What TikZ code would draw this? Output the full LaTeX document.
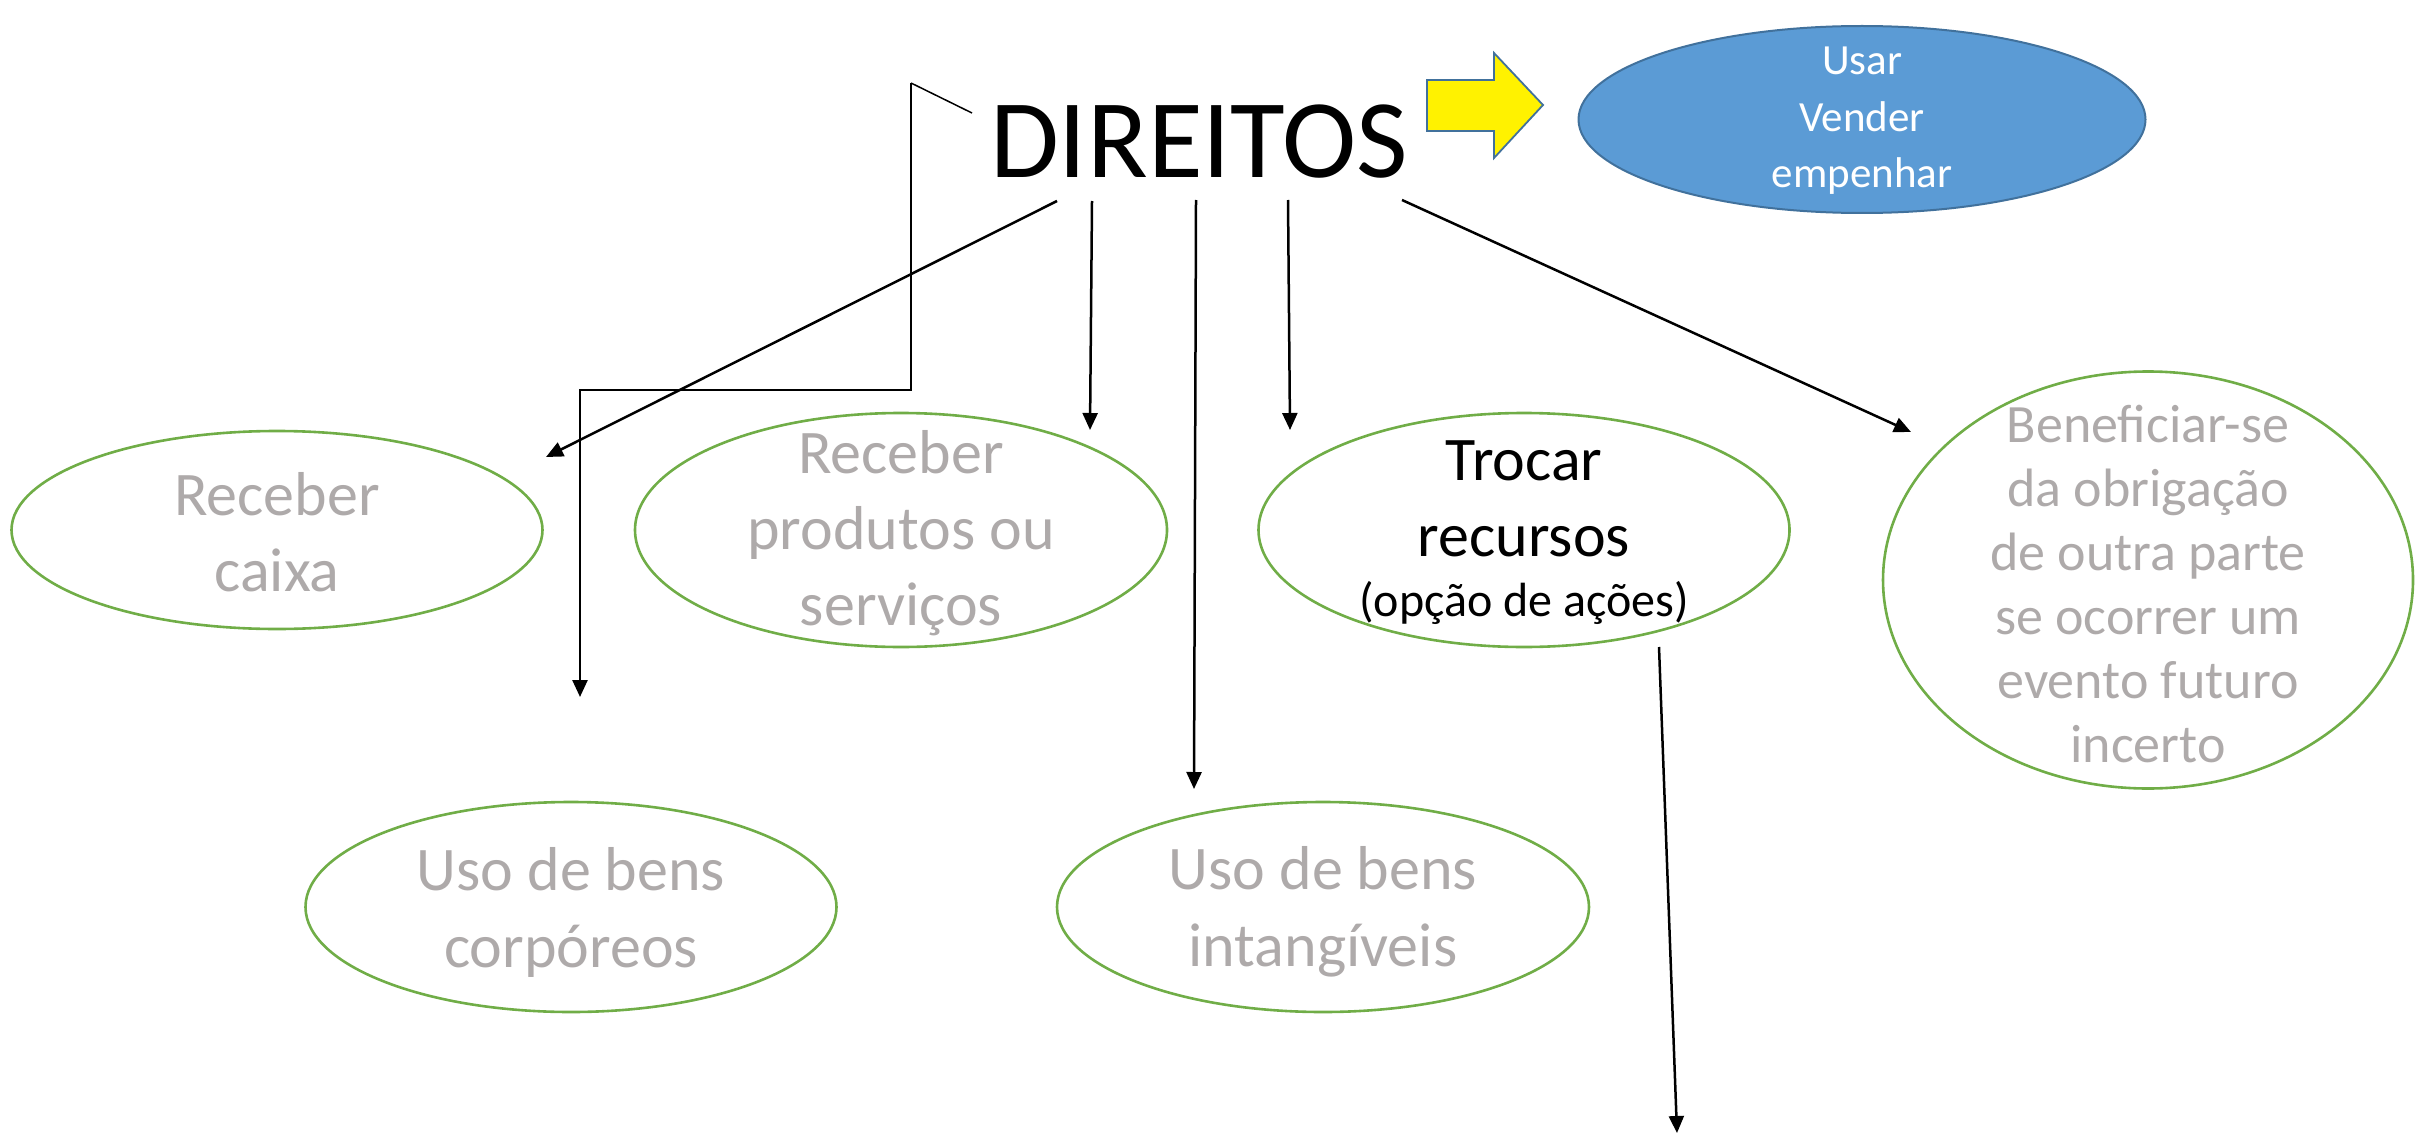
\documentclass[tikz,border=0pt]{standalone}
\usepackage{fontspec}
\setmainfont{Carlito}
\usetikzlibrary{shapes.geometric,arrows.meta}
\definecolor{ovalgreen}{HTML}{70AD47}
\definecolor{ovalgray}{HTML}{AEAAAA}
\definecolor{bluefill}{HTML}{5B9BD5}
\definecolor{blueline}{HTML}{41719C}
\tikzset{
  oval/.style={ellipse, draw=ovalgreen, line width=2.6pt, inner sep=0pt},
  graytext/.style={text=ovalgray, align=center, inner sep=0pt},
  conn/.style={line width=2.5pt, -{Triangle[length=17pt,width=15pt]}},
}
\begin{document}
\begin{tikzpicture}[x=1pt,y=-1pt]
\useasboundingbox (0,0) rectangle (2419,1134);
% title
\node[anchor=base, inner sep=0pt, font=\fontsize{112}{112}\selectfont] (dir) at (1199,178) {DIREITOS};
% yellow arrow
\draw[fill=yellow, draw=blueline, line width=1.8pt, line join=miter]
  (1427,80) -- (1494,80) -- (1494,53) -- (1543,105) -- (1494,158) -- (1494,131) -- (1427,131) -- cycle;
% blue ellipse
\node[ellipse, fill=bluefill, draw=blueline, line width=2pt, minimum width=567pt, minimum height=187pt, inner sep=0pt] (blue) at (1862,119.5) {};
\node[text=white, align=center, inner sep=0pt, font=\fontsize{43}{56.5}\selectfont] (blueT) at (1862,121) {Usar\\Vender\\empenhar};
% ellipses
\node[oval, minimum width=531pt, minimum height=198pt] (caixa) at (277,530) {};
\node[graytext, font=\fontsize{62}{76}\selectfont] (caixaT) at (277,532) {Receber\\caixa};
\node[oval, minimum width=532pt, minimum height=234pt] (prod) at (901,530) {};
\node[graytext, font=\fontsize{62}{76}\selectfont] (prodT) at (901,533) {Receber\\produtos ou\\serviços};
\node[oval, minimum width=531pt, minimum height=234pt] (troca) at (1524,530) {};
\node[align=center, inner sep=0pt, font=\fontsize{62}{76}\selectfont] (trocaT) at (1524,533) {Trocar\\recursos\\[-16pt]{\fontsize{48}{48}\selectfont (opção de ações)}};
\node[oval, minimum width=530pt, minimum height=417pt] (benef) at (2148,580) {};
\node[graytext, font=\fontsize{54}{64}\selectfont] (benefT) at (2148,584) {Beneficiar-se\\da obrigação\\de outra parte\\se ocorrer um\\evento futuro\\incerto};
\node[oval, minimum width=531pt, minimum height=210pt] (corp) at (571,907) {};
\node[graytext, font=\fontsize{62}{77}\selectfont] (corpT) at (571,912) {Uso de bens\\corpóreos};
\node[oval, minimum width=532pt, minimum height=210pt] (intg) at (1323,907) {};
\node[graytext, font=\fontsize{62}{77}\selectfont] (intgT) at (1323,912) {Uso de bens\\intangíveis};
% connector end points
\coordinate (s1) at (1057,201); \coordinate (t1) at (546,457);
\coordinate (s2) at (1092,201); \coordinate (t2) at (1090,430);
\coordinate (s3) at (1196,200); \coordinate (t3) at (1194,789);
\coordinate (s4) at (1288,200); \coordinate (t4) at (1290,430);
\coordinate (s5) at (1402,200); \coordinate (t5) at (1911,432);
\coordinate (e0) at (972,113); \coordinate (e1) at (911,83); \coordinate (e2) at (911,390);
\coordinate (e3) at (580,390); \coordinate (et) at (580,697);
\coordinate (s6) at (1659,647); \coordinate (t6) at (1677,1133);
% connectors
\draw[conn] (s1) -- (t1);
\draw[conn] (s2) -- (t2);
\draw[conn] (s3) -- (t3);
\draw[conn] (s4) -- (t4);
\draw[conn] (s5) -- (t5);
\draw[line width=1.5pt] (e0) -- (e1);
\draw[conn, line join=miter] (e1) -- (e2) -- (e3) -- (et);
\draw[conn] (s6) -- (t6);
\end{tikzpicture}
\end{document}
